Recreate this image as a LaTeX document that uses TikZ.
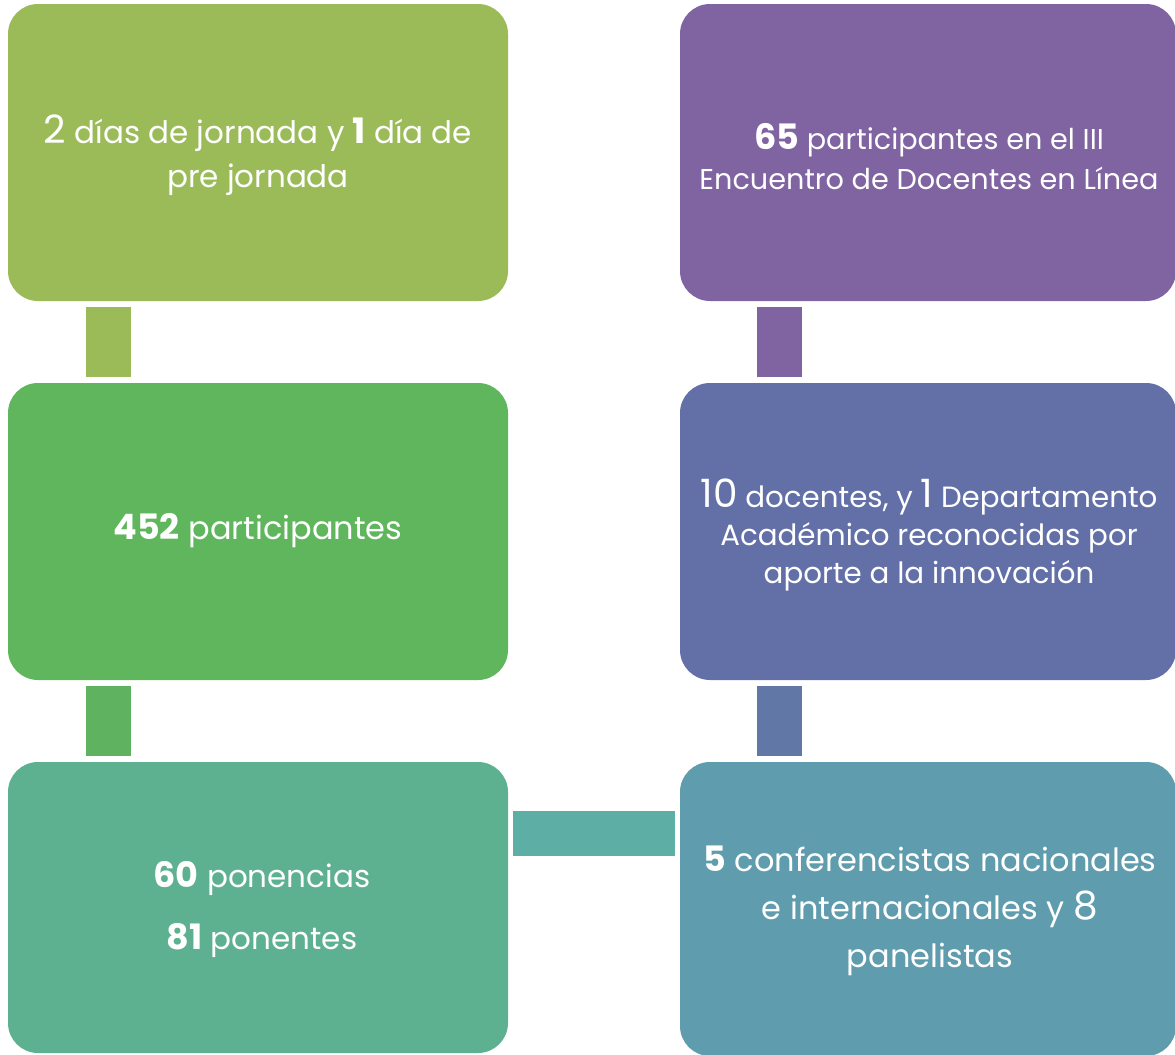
\documentclass[tikz,border=0pt]{standalone}
\usepackage{fontspec}
\setmainfont{Poppins}
\definecolor{cA}{HTML}{9BBB59}
\definecolor{cB}{HTML}{5FB65C}
\definecolor{cC}{HTML}{5DB090}
\definecolor{cD}{HTML}{8064A2}
\definecolor{cE}{HTML}{6370A8}
\definecolor{cF}{HTML}{5F9CAD}
\definecolor{kA}{HTML}{9BBB59}
\definecolor{kB}{HTML}{5FB25F}
\definecolor{kC}{HTML}{5DAFA5}
\definecolor{kD}{HTML}{8064A2}
\definecolor{kE}{HTML}{6178A6}
\newcommand{\bnum}[1]{{\fontsize{35bp}{40bp}\selectfont\bfseries #1}}
\newcommand{\rnum}[1]{{\fontsize{39bp}{40bp}\selectfont #1}}
\begin{document}
\begin{tikzpicture}[x=1bp,y=-1bp,
  box/.style={rounded corners=30bp,draw=none},
  link/.style={draw=none},
  txt/.style={text=white,align=center,font=\fontsize{30bp}{40bp}\selectfont,inner sep=0pt}]
\useasboundingbox (0,0) rectangle (1175,1055);
% boxes
\fill[box,cA] (8,4) rectangle (508,301);
\fill[box,cD] (680,4) rectangle (1176,301);
\fill[box,cB] (8,383) rectangle (508,680);
\fill[box,cE] (680,383) rectangle (1176,680);
\fill[box,cC] (8,762) rectangle (508,1053);
\fill[box,cF] (680,762) rectangle (1176,1056);
% connectors
\fill[link,kA] (86,307) rectangle (131,377);
\fill[link,kB] (86,686) rectangle (131,756);
\fill[link,kD] (757,307) rectangle (802,377);
\fill[link,kE] (757,686) rectangle (802,756);
\fill[link,kC] (513,811) rectangle (675,856);
% texts
\node[txt,font=\fontsize{31bp}{44bp}\selectfont] (t1) at (258,155) {\rnum{2} días de jornada y \bnum{1} día de\\pre jornada};
\node[txt,font=\fontsize{28.7bp}{40bp}\selectfont] (t2) at (929,157) {\bnum{65} participantes en el III\\Encuentro de Docentes en Línea};
\node[txt,font=\fontsize{32bp}{40bp}\selectfont] (t3) at (258,531) {\bnum{452} participantes};
\node[txt,font=\fontsize{29.3bp}{38bp}\selectfont] (t4) at (929,535) {\rnum{10} docentes, y \rnum{1} Departamento\\Académico reconocidas por\\aporte a la innovación};
\node[txt,font=\fontsize{31bp}{62bp}\selectfont] (t5) at (262,909) {\bnum{60} ponencias\\\bnum{81} ponentes};
\node[txt,font=\fontsize{32bp}{48bp}\selectfont] (t6) at (930,911) {\bnum{5} conferencistas nacionales\\e internacionales y \rnum{8}\\panelistas};
\end{tikzpicture}
\end{document}
